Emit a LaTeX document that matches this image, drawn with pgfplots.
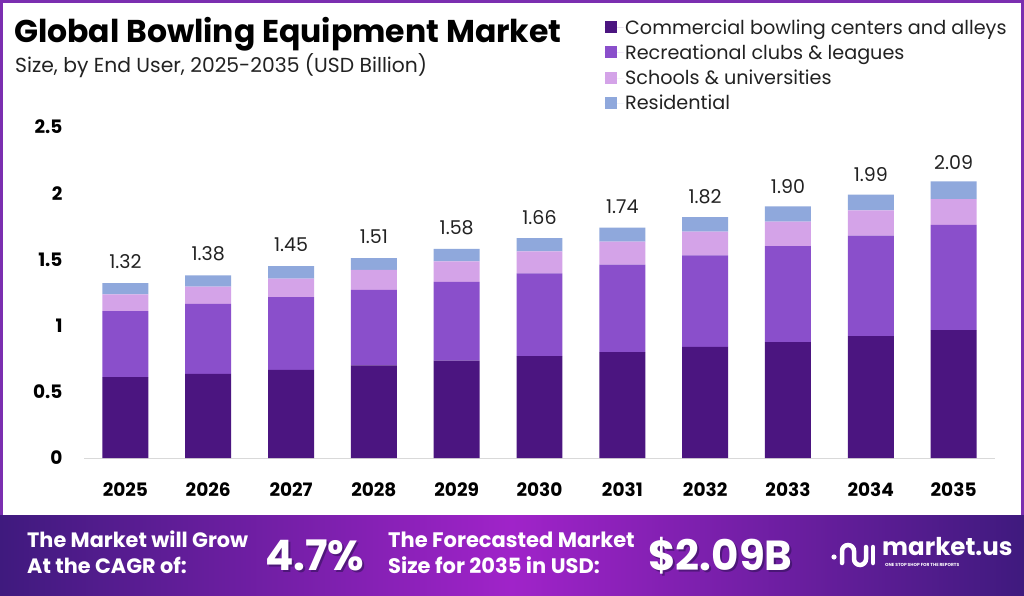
\documentclass[border=0pt]{standalone}
\usepackage{fontspec}
\setmainfont{Poppins}
\usepackage{pgfplots}
\pgfplotsset{compat=1.18}
\usepackage{pgfplotstable}
\definecolor{cA}{HTML}{4B1580}
\definecolor{cB}{HTML}{8A4FCB}
\definecolor{cC}{HTML}{D4A3E8}
\definecolor{cD}{HTML}{8FA8DC}
\definecolor{bandD}{HTML}{3F1A7E}
\definecolor{bandM}{HTML}{A023C9}
\definecolor{framec}{HTML}{7B2FB0}
\definecolor{txt}{HTML}{222222}

\pgfplotstableread{
year a b c d total
2025 0.61 0.50 0.125 0.085 1.32
2026 0.635 0.53 0.13 0.085 1.38
2027 0.665 0.55 0.14 0.095 1.45
2028 0.70 0.57 0.15 0.09 1.51
2029 0.735 0.595 0.155 0.095 1.58
2030 0.77 0.625 0.165 0.10 1.66
2031 0.80 0.66 0.175 0.105 1.74
2032 0.84 0.69 0.18 0.11 1.82
2033 0.875 0.725 0.185 0.115 1.90
2034 0.92 0.76 0.19 0.12 1.99
2035 0.965 0.795 0.195 0.135 2.09
}\data

\begin{document}
\begin{tikzpicture}[x=1pt,y=1pt]
\useasboundingbox (0,0) rectangle (1024,595);
\fill[white] (0,0) rectangle (1024,595);
% banner
\shade[left color=bandD, right color=bandD, middle color=bandM] (0,0) rectangle (1024,80);
% frame
\draw[framec, line width=3pt] (1.5,80) -- (1.5,593.5) -- (1022.5,593.5) -- (1022.5,80);
% titles
\node[anchor=base west, inner sep=0, font=\fontsize{31.5}{36}\selectfont\bfseries, text=black] at (14,552) {Global Bowling Equipment Market};
\node[anchor=base west, inner sep=0, font=\fontsize{20.3}{24}\selectfont, text=txt] at (15,522) {Size, by End User, 2025-2035 (USD Billion)};

\begin{axis}[
  at={(84pt,137pt)}, anchor=south west,
  scale only axis, width=911pt, height=331pt,
  ybar stacked, bar width=0.555,
  xmin=2024.5, xmax=2035.5, ymin=0, ymax=2.5,
  xtick=data, ytick={0,0.5,1,1.5,2,2.5},
  axis lines*=left, axis line style={-},
  x axis line style={draw=black!15, line width=1pt},
  y axis line style={draw=none},
  tick style={draw=none},
  x tick label style={/pgf/number format/1000 sep=, font=\fontsize{18.5}{20}\selectfont\bfseries, yshift=-21pt},
  y tick label style={font=\fontsize{18.5}{20}\selectfont\bfseries, xshift=-18pt},
  /pgf/number format/assume math mode=true,
  clip=false,
  legend style={at={(0.568,1.335)}, anchor=north west, draw=none, fill=none,
     font=\fontsize{19.2}{21}\selectfont, text=txt, row sep=6pt,
     nodes={inner sep=1.5pt}},
  legend cell align=left,
  legend image code/.code={\fill[#1] (0pt,-5.5pt) rectangle (12pt,6.5pt); \path (0pt,0pt) -- (19pt,0pt);},
]
\addplot[fill=cA, draw=none] table[x=year, y=a] {\data};
\addplot[fill=cB, draw=none] table[x=year, y=b] {\data};
\addplot[fill=cC, draw=none] table[x=year, y=c] {\data};
\addplot[fill=cD, draw=none,
   point meta=explicit,
   nodes near coords={\pgfmathprintnumber[fixed,fixed zerofill,precision=2]{\pgfplotspointmeta}},
   nodes near coords style={font=\fontsize{19}{22}\selectfont, text=txt, anchor=south, yshift=17pt}
   ] table[x=year, y=d, meta=total] {\data};
\legend{Commercial bowling centers and alleys, Recreational clubs \& leagues, Schools \& universities, Residential}
\end{axis}

% banner text
\begin{scope}[every node/.style={text=white, inner sep=0}]
\node[anchor=base west, font=\fontsize{20.8}{24}\selectfont\bfseries] at (27,48) {The Market will Grow};
\node[anchor=base west, font=\fontsize{20.8}{24}\selectfont\bfseries] at (27,22) {At the CAGR of:};
\node[anchor=base west, font=\fontsize{42}{46}\selectfont\bfseries, text=black!40!bandD, opacity=0.5] at (267,23) {4.7\%};
\node[anchor=base west, font=\fontsize{42}{46}\selectfont\bfseries] at (265,25) {4.7\%};
\node[anchor=base west, font=\fontsize{21}{24}\selectfont\bfseries] at (388,48) {The Forecasted Market};
\node[anchor=base west, font=\fontsize{21}{24}\selectfont\bfseries] at (388,22) {Size for 2035 in USD:};
\node[anchor=base west, font=\fontsize{42}{46}\selectfont\bfseries, text=black!40!bandD, opacity=0.5] at (650,23) {\$2.09B};
\node[anchor=base west, font=\fontsize{42}{46}\selectfont\bfseries] at (648,25) {\$2.09B};
\node[anchor=base west, font=\fontsize{24.5}{28}\selectfont\bfseries] at (882,40) {market.us};
\node[anchor=base west, font=\fontsize{4.4}{5}\selectfont\bfseries] at (885,29) {ONE STOP SHOP FOR THE REPORTS};
\end{scope}
% logo icon
\begin{scope}[white, line width=4.5pt, line cap=round]
\fill[white] (834,38) circle (2.6pt);
\draw (842,32) -- (842,44) arc (180:0:6pt) -- (854,36) arc (180:360:6pt) -- (866,48);
\draw (873,32) -- (873,48);
\end{scope}
\end{tikzpicture}
\end{document}
